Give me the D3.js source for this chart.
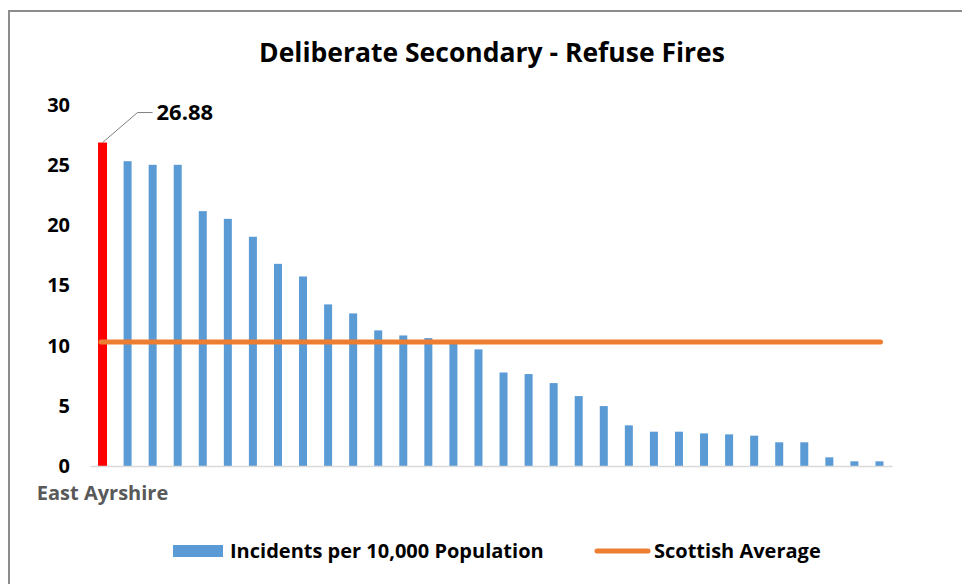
<!DOCTYPE html>
<html>
  <head>
    <meta charset="UTF-8" />
    <title>Deliberate Secondary - Refuse Fires</title>
    <script src="https://d3js.org/d3.v7.min.js"></script>
    <style>
      body { margin: 0; background: #fff; }
      text { font-family: "Open Sans", Lato, sans-serif; }
    </style>
  </head>
  <body>
    <svg id="chart" width="962" height="584"></svg>
    <script>
      // incidents per 10,000 population, one bar per council area (sorted)
      var values = [26.88, 25.33, 25.03, 25.03, 21.18, 20.54, 19.05, 16.8, 15.75, 13.43,
        12.68, 11.27, 10.85, 10.63, 10.25, 9.69, 7.77, 7.64, 6.89, 5.81,
        4.98, 3.38, 2.85, 2.85, 2.71, 2.63, 2.52, 1.97, 1.97, 0.72, 0.39, 0.39];
      var highlightName = 'East Ayrshire';
      var scottishAverage = 10.3;
      var yTicks = [0, 5, 10, 15, 20, 25, 30];
      var legendLabels = ['Incidents per 10,000 Population', 'Scottish Average'];

      var svg = d3.select('#chart');

      // outer frame
      svg.append('rect')
        .attr('x', 9).attr('y', 11)
        .attr('width', 1000).attr('height', 600)
        .attr('fill', 'none')
        .attr('stroke', '#8c8c8c')
        .attr('stroke-width', 2);

      var x = d3.scaleBand()
        .domain(values.map(function (d, i) { return i; }))
        .range([90, 892]);

      var y = d3.scaleLinear().domain([0, 30]).range([466, 105]);

      // title
      svg.append('text')
        .attr('x', 492).attr('y', 62)
        .attr('text-anchor', 'middle')
        .attr('font-size', 26.5)
        .attr('font-weight', 'bold')
        .attr('fill', '#000')
        .text('Deliberate Secondary - Refuse Fires');

      // y axis labels only
      var yAxis = svg.append('g')
        .attr('transform', 'translate(70,0)')
        .call(d3.axisLeft(y).tickValues(yTicks).tickSize(0).tickPadding(0));
      yAxis.select('.domain').remove();
      yAxis.selectAll('text')
        .attr('font-size', 20)
        .attr('font-weight', 'bold')
        .attr('fill', '#000')
        .style('font-family', '"Open Sans", sans-serif');

      // bars
      svg.selectAll('.bar')
        .data(values)
        .enter()
        .append('rect')
        .attr('class', 'bar')
        .attr('x', function (d, i) {
          var w = i === 0 ? 9 : 8;
          return x(i) + x.bandwidth() / 2 - w / 2;
        })
        .attr('width', function (d, i) { return i === 0 ? 9 : 8; })
        .attr('y', function (d) { return y(d); })
        .attr('height', function (d) { return y(0) - y(d); })
        .attr('fill', function (d, i) { return i === 0 ? '#ff0000' : '#5b9bd5'; });

      // x axis: baseline plus the single highlighted label
      var xAxis = svg.append('g')
        .attr('transform', 'translate(0,' + y(0) + ')')
        .call(d3.axisBottom(x).tickSize(0).tickSizeOuter(0).tickPadding(20)
          .tickFormat(function (d) { return d === 0 ? highlightName : ''; }));
      xAxis.select('.domain').attr('stroke', '#d9d9d9').attr('stroke-width', 1.5);
      xAxis.selectAll('text')
        .attr('font-size', 20)
        .attr('font-weight', 'bold')
        .attr('fill', '#595959')
        .style('font-family', '"Open Sans", sans-serif');

      // scottish average line
      svg.append('line')
        .attr('x1', x(0) + 11).attr('x2', x(values.length - 1) + x.bandwidth() / 2 + 1)
        .attr('y1', y(scottishAverage)).attr('y2', y(scottishAverage))
        .attr('stroke', '#ed7d31')
        .attr('stroke-width', 5)
        .attr('stroke-linecap', 'round');

      // data label for the highlighted bar
      var bx = x(0) + x.bandwidth() / 2, by = y(values[0]);
      svg.append('path')
        .attr('d', 'M' + bx + ',' + by + 'L' + (bx + 35) + ',' + (by - 30) + 'H' + (bx + 50))
        .attr('fill', 'none')
        .attr('stroke', '#7f7f7f')
        .attr('stroke-width', 1);
      svg.append('text')
        .attr('x', bx + 54).attr('y', by - 23)
        .attr('font-size', 22)
        .attr('font-weight', 'bold')
        .attr('fill', '#000')
        .text(values[0].toFixed(2));

      // legend
      var legend = svg.append('g');
      legend.append('rect')
        .attr('x', 173).attr('y', 545).attr('width', 50).attr('height', 12)
        .attr('fill', '#5b9bd5');
      legend.append('text')
        .attr('x', 230).attr('y', 558)
        .attr('font-size', 20).attr('font-weight', 'bold').attr('fill', '#000')
        .text(legendLabels[0]);
      legend.append('line')
        .attr('x1', 597).attr('x2', 648).attr('y1', 551).attr('y2', 551)
        .attr('stroke', '#ed7d31').attr('stroke-width', 5).attr('stroke-linecap', 'round');
      legend.append('text')
        .attr('x', 654).attr('y', 558)
        .attr('font-size', 20).attr('font-weight', 'bold').attr('fill', '#000')
        .text(legendLabels[1]);
    </script>
  </body>
</html>
